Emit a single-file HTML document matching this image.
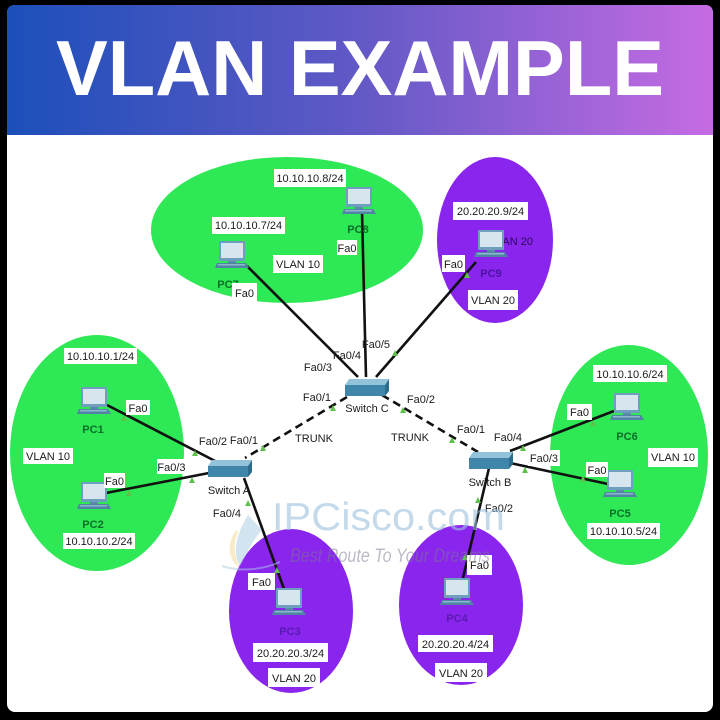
<!DOCTYPE html>
<html><head><meta charset="utf-8"><style>
html,body{margin:0;padding:0;background:#000;}
svg{display:block;}
text{font-family:"Liberation Sans",Arial,sans-serif;}
</style></head><body>
<svg width="720" height="720" viewBox="0 0 720 720" xmlns="http://www.w3.org/2000/svg">
<defs>
<linearGradient id="hg" x1="0" y1="0" x2="1" y2="0">
<stop offset="0" stop-color="#1c4fb9"/>
<stop offset="0.5" stop-color="#6259c6"/>
<stop offset="1" stop-color="#c66be3"/>
</linearGradient>
<g id="pc">
<rect x="1" y="0" width="26" height="20" rx="1" fill="#6f9fbf"/>
<rect x="3" y="2" width="22" height="15" fill="#d6e5ee"/>
<rect x="10" y="20" width="8" height="2" fill="#5a8aa8"/>
<polygon points="-1,22 28,22 31,27 -3,27" fill="#4f84a5"/>
<rect x="0" y="23" width="27" height="1.5" fill="#8fb7cf"/>
</g>
<g id="sw">
<polygon points="-18,-9 22,-9 18,-3 -22,-3" fill="#93c3d8"/>
<rect x="-22" y="-3" width="40" height="11" fill="#3f86aa"/>
<polygon points="18,-3 22,-9 22,3 18,8" fill="#2c6c8d"/>
</g>
</defs>

<!-- frame -->
<rect x="0" y="0" width="720" height="720" fill="#000"/>
<rect x="7" y="5" width="706" height="707" rx="8" fill="#ffffff"/>
<path d="M7,135 L7,13 Q7,5 15,5 L705,5 Q713,5 713,13 L713,135 Z" fill="url(#hg)"/>
<text x="360" y="95" text-anchor="middle" font-size="78" font-weight="bold" fill="#ffffff" textLength="608" lengthAdjust="spacingAndGlyphs">VLAN EXAMPLE</text>

<!-- ellipses -->
<ellipse cx="287" cy="230" rx="136" ry="73" fill="#2ee855"/>
<ellipse cx="495" cy="240" rx="58" ry="83" fill="#8a25ee"/>
<ellipse cx="97" cy="453" rx="87" ry="118" fill="#2ee855"/>
<ellipse cx="629" cy="455" rx="79" ry="110" fill="#2ee855"/>
<ellipse cx="291" cy="611" rx="62" ry="82" fill="#8a25ee"/>
<ellipse cx="461" cy="605" rx="62" ry="80" fill="#8a25ee"/>

<!-- hidden VLAN 20 label behind PC9 -->
<text x="533" y="245" text-anchor="end" font-size="11" fill="#2a0a55">VLAN 20</text>

<!-- links -->
<g stroke="#111" stroke-width="2.6" fill="none">
<line x1="247" y1="266" x2="358" y2="377"/>
<line x1="362" y1="212" x2="366" y2="377"/>
<line x1="476" y1="262" x2="376" y2="377"/>
<line x1="107" y1="405" x2="217" y2="462"/>
<line x1="106" y1="493" x2="209" y2="473"/>
<line x1="244" y1="478" x2="284" y2="589"/>
<line x1="510" y1="451" x2="614" y2="411"/>
<line x1="510" y1="463" x2="608" y2="484"/>
<line x1="489" y1="468" x2="463" y2="578"/>
<line x1="347" y1="397" x2="245" y2="458" stroke-dasharray="8,5"/>
<line x1="382" y1="395" x2="478" y2="452" stroke-dasharray="8,5"/>
</g>

<!-- link lights -->
<g fill="#5cc24a">
<polygon points="121,421 127,421 124,415"/>
<polygon points="192,456 198,456 195,450"/>
<polygon points="126,496 132,496 129,490"/>
<polygon points="189,483 195,483 192,477"/>
<polygon points="260,451 266,451 263,445"/>
<polygon points="330,411 336,411 333,405"/>
<polygon points="392,356 398,356 395,350"/>
<polygon points="464,278 470,278 467,272"/>
<polygon points="400,413 406,413 403,407"/>
<polygon points="449,443 455,443 452,437"/>
<polygon points="520,451 526,451 523,445"/>
<polygon points="590,426 596,426 593,420"/>
<polygon points="522,473 528,473 525,467"/>
<polygon points="580,482 586,482 583,476"/>
<polygon points="475,503 481,503 478,497"/>
<polygon points="462,560 468,560 465,554"/>
<polygon points="245,506 251,506 248,500"/>
<polygon points="274,573 280,573 277,567"/>
</g>

<!-- switches -->
<use href="#sw" x="367" y="388"/>
<use href="#sw" x="230" y="469"/>
<use href="#sw" x="491" y="461"/>

<!-- PCs -->
<use href="#pc" x="218" y="241"/>
<use href="#pc" x="345" y="187"/>
<use href="#pc" x="477" y="230"/>
<use href="#pc" x="80" y="387"/>
<use href="#pc" x="80" y="482"/>
<use href="#pc" x="613" y="393"/>
<use href="#pc" x="606" y="470"/>
<use href="#pc" x="275" y="588"/>
<use href="#pc" x="443" y="578"/>

<!-- PC names -->
<g font-size="11" text-anchor="middle" font-weight="bold">
<text x="228" y="288" fill="#0b7028">PC7</text>
<text x="358" y="233" fill="#0b7028">PC8</text>
<text x="491" y="277" fill="#4a14a0">PC9</text>
<text x="93" y="433" fill="#0b7028">PC1</text>
<text x="93" y="528" fill="#0b7028">PC2</text>
<text x="627" y="440" fill="#0b7028">PC6</text>
<text x="620" y="517" fill="#0b7028">PC5</text>
<text x="290" y="635" fill="#5a1ab0">PC3</text>
<text x="457" y="622" fill="#5a1ab0">PC4</text>
</g>

<!-- boxed labels -->
<g fill="#ffffff">
<rect x="274" y="169" width="72" height="18"/>
<rect x="212" y="217" width="73" height="17"/>
<rect x="273" y="255" width="50" height="18"/>
<rect x="337" y="240" width="20" height="15"/>
<rect x="232" y="283" width="25" height="19"/>
<rect x="453" y="202" width="75" height="18"/>
<rect x="442" y="255" width="23" height="17"/>
<rect x="468" y="290" width="50" height="20"/>
<rect x="64" y="348" width="73" height="16"/>
<rect x="126" y="400" width="24" height="15"/>
<rect x="23" y="448" width="50" height="16"/>
<rect x="104" y="473" width="21" height="15"/>
<rect x="63" y="533" width="72" height="16"/>
<rect x="157" y="459" width="29" height="15"/>
<rect x="593" y="365" width="74" height="17"/>
<rect x="567" y="404" width="25" height="16"/>
<rect x="648" y="448" width="50" height="19"/>
<rect x="586" y="462" width="22" height="15"/>
<rect x="587" y="523" width="73" height="16"/>
<rect x="528" y="450" width="32" height="16"/>
<rect x="248" y="573" width="27" height="17"/>
<rect x="253" y="643" width="75" height="19"/>
<rect x="268" y="668" width="52" height="19"/>
<rect x="467" y="555" width="25" height="20"/>
<rect x="418" y="635" width="75" height="17"/>
<rect x="435" y="663" width="52" height="19"/>
</g>
<g font-size="11" fill="#1a1a1a" text-anchor="middle">
<text x="310" y="182">10.10.10.8/24</text>
<text x="248.5" y="229">10.10.10.7/24</text>
<text x="298" y="268">VLAN 10</text>
<text x="347" y="252">Fa0</text>
<text x="244.5" y="297">Fa0</text>
<text x="490.5" y="215">20.20.20.9/24</text>
<text x="453.5" y="268">Fa0</text>
<text x="493" y="304">VLAN 20</text>
<text x="100.5" y="360">10.10.10.1/24</text>
<text x="138" y="412">Fa0</text>
<text x="48" y="460">VLAN 10</text>
<text x="114.5" y="485">Fa0</text>
<text x="99" y="545">10.10.10.2/24</text>
<text x="171.5" y="471">Fa0/3</text>
<text x="630" y="378">10.10.10.6/24</text>
<text x="579.5" y="416">Fa0</text>
<text x="673" y="461">VLAN 10</text>
<text x="597" y="474">Fa0</text>
<text x="623.5" y="535">10.10.10.5/24</text>
<text x="544" y="462">Fa0/3</text>
<text x="261.5" y="586">Fa0</text>
<text x="290.5" y="657">20.20.20.3/24</text>
<text x="294" y="682">VLAN 20</text>
<text x="479.5" y="569">Fa0</text>
<text x="455.5" y="648">20.20.20.4/24</text>
<text x="461" y="677">VLAN 20</text>
<!-- port labels -->
<text x="376" y="348">Fa0/5</text>
<text x="347" y="359">Fa0/4</text>
<text x="318" y="371">Fa0/3</text>
<text x="317" y="401">Fa0/1</text>
<text x="421" y="403">Fa0/2</text>
<text x="367" y="412">Switch C</text>
<text x="410" y="441">TRUNK</text>
<text x="314" y="442">TRUNK</text>
<text x="213" y="445">Fa0/2</text>
<text x="244" y="444">Fa0/1</text>
<text x="229" y="494">Switch A</text>
<text x="227" y="517">Fa0/4</text>
<text x="471" y="433">Fa0/1</text>
<text x="508" y="441">Fa0/4</text>
<text x="490" y="486">Switch B</text>
<text x="499" y="512">Fa0/2</text>
</g>

<!-- watermark -->
<g opacity="0.5">
<path d="M248,515 C236,535 232,552 240,566 C246,556 252,540 262,530 Z" fill="#a9cbe4"/>
<path d="M236,530 C226,545 228,560 240,568 C234,556 233,543 238,532 Z" fill="#f2d890"/>
<path d="M222,566 C240,572 262,570 280,562" stroke="#a9cbe4" stroke-width="2" fill="none"/>
</g>
<text x="272" y="530" font-size="39" fill="#9ec3de" opacity="0.6" textLength="233" lengthAdjust="spacingAndGlyphs">IPCisco.com</text>
<text x="290" y="562" font-size="19" font-style="italic" fill="#7a7a90" opacity="0.5" textLength="200" lengthAdjust="spacingAndGlyphs">Best Route To Your Dreams</text>
</svg>
</body></html>
